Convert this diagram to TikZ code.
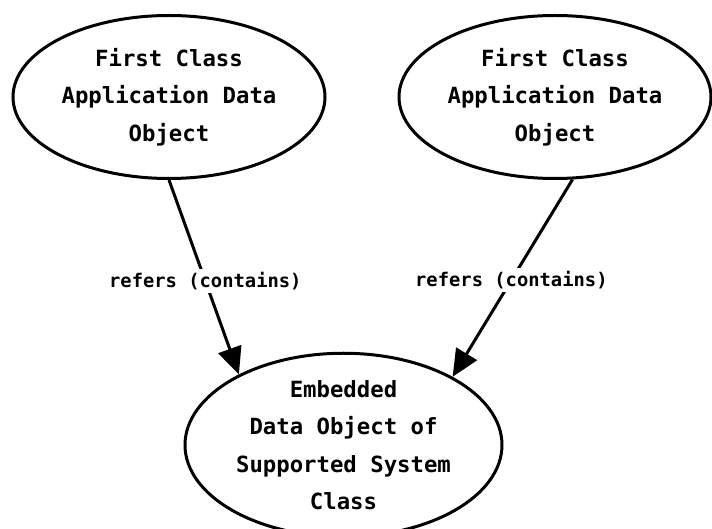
\documentclass[tikz,border=0pt]{standalone}
\usepackage{fontspec}
\setmonofont{DejaVu Sans Mono}
\usetikzlibrary{shapes.geometric,arrows.meta}
\begin{document}
\begin{tikzpicture}[x=1pt,y=-1pt,
  objnode/.style={ellipse,draw=black,line width=3pt,fill=white,
    inner sep=0pt,align=center,
    font={\ttfamily\bfseries\fontsize{22.3}{37.5}\selectfont}},
  refline/.style={line width=3pt,-{Triangle[length=27pt,width=24pt]}},
  reflabel/.style={fill=white,inner sep=3pt,
    font={\ttfamily\bfseries\fontsize{18.8}{22}\selectfont}}]
  \useasboundingbox (0,0) rectangle (712,529);

  % two first-class objects and the embedded object they refer to
  \node[objnode,minimum width=312pt,minimum height=163pt] (left) at (169,97)
    {First Class\\Application Data\\Object};
  \node[objnode,minimum width=312pt,minimum height=163pt] (right) at (555,97)
    {First Class\\Application Data\\Object};
  \node[objnode,minimum width=317pt,minimum height=164pt] (embedded) at (343.5,445)
    {Embedded\\Data Object of\\Supported System\\Class};

  % reference connectors
  \draw[refline] (left.south) -- node[reflabel,pos=0.52] {refers (contains)} (embedded.146);
  \draw[refline] (right.282) -- node[reflabel,pos=0.51] {refers (contains)} (embedded.32);
\end{tikzpicture}
\end{document}
